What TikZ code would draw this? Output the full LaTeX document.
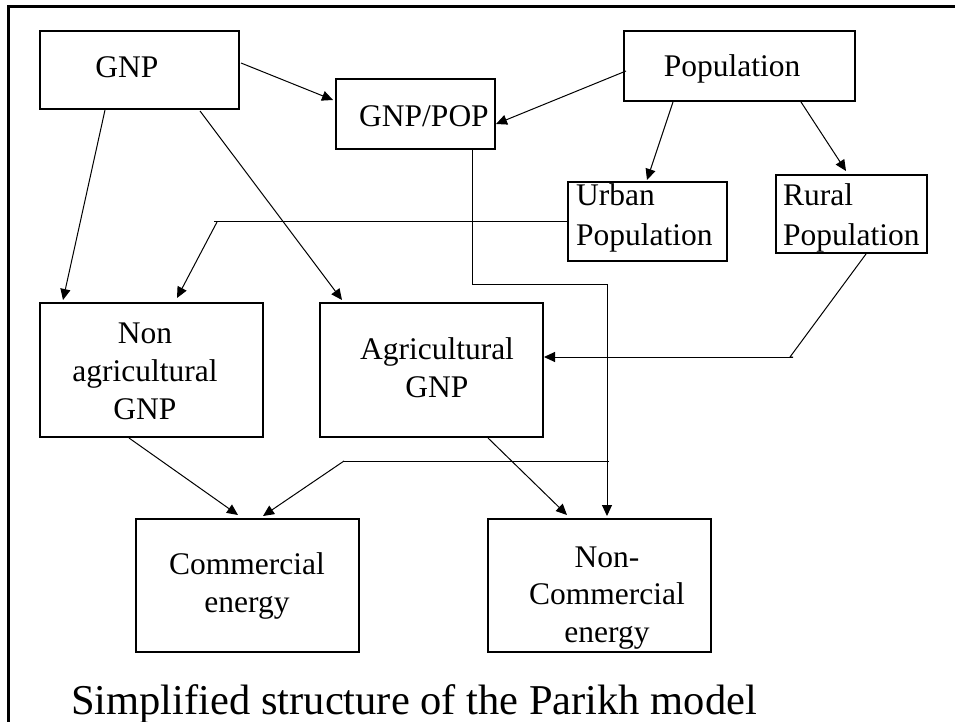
\documentclass[tikz,border=0pt]{standalone}
\usepackage{fontspec}
\setmainfont{Liberation Serif}
\usetikzlibrary{arrows.meta}
\tikzset{
  box/.style={draw, line width=1.2pt, inner sep=0pt, outer sep=0pt, anchor=north west},
  lbl/.style={inner sep=0pt, anchor=base, font=\fontsize{31.5}{38}\selectfont},
  lbll/.style={lbl, anchor=base west},
  conn/.style={line width=1pt, -{Triangle[length=11pt,width=10pt]}},
  plain/.style={line width=1pt},
}
\begin{document}
\begin{tikzpicture}[x=1pt,y=-1pt]
\useasboundingbox (0,0) rectangle (955,722);
% frame
\draw[line width=2.7pt] (8.7,722) -- (8.7,6.7) -- (955,6.7);

% boxes
\node[box, minimum width=199pt, minimum height=78pt] (gnp) at (40,31) {};
\node[box, minimum width=159pt, minimum height=70pt] (gnppop) at (336,79) {};
\node[box, minimum width=231pt, minimum height=70pt] (pop) at (624,31) {};
\node[box, minimum width=159pt, minimum height=79pt] (urban) at (568,182) {};
\node[box, minimum width=151pt, minimum height=78pt] (rural) at (776,175) {};
\node[box, minimum width=223pt, minimum height=134pt] (nag) at (40,303) {};
\node[box, minimum width=223pt, minimum height=134pt] (ag) at (320,303) {};
\node[box, minimum width=223pt, minimum height=133pt] (com) at (136,519) {};
\node[box, minimum width=223pt, minimum height=133pt] (ncom) at (488,519) {};

% labels
\node[lbl] (gnpT) at (127,78) {GNP};
\node[lbl] (gnppopT) at (424,127) {GNP/POP};
\node[lbl] (popT) at (732,77) {Population};
\node[lbll] (urbanT1) at (576,205) {Urban};
\node[lbll] (urbanT2) at (576,245) {Population};
\node[lbll] (ruralT1) at (783,205) {Rural};
\node[lbll] (ruralT2) at (783,245) {Population};
\node[lbl] (nagT1) at (145,343) {Non};
\node[lbl] (nagT2) at (145,381) {agricultural};
\node[lbl] (nagT3) at (145,419) {GNP};
\node[lbl] (agT1) at (437,359) {Agricultural};
\node[lbl] (agT2) at (437,397) {GNP};
\node[lbl] (comT1) at (247,574) {Commercial};
\node[lbl] (comT2) at (247,612) {energy};
\node[lbl] (ncomT1) at (607,567) {Non-};
\node[lbl] (ncomT2) at (607,604) {Commercial};
\node[lbl] (ncomT3) at (607,642) {energy};

% caption
\node[inner sep=0pt, anchor=base west, font=\fontsize{42.5}{50}\selectfont] (caption) at (71,714) {Simplified structure of the Parikh model};

% helper coordinates
\coordinate (c1) at (214,221);
\coordinate (c3) at (607,284);
\coordinate (c4) at (793,357);
\coordinate (c5) at (609,461);
\coordinate (c6) at (344,461);

% connectors
\draw[conn] ([shift={(201,32)}]gnp.north west) -- ([shift={(-3,21)}]gnppop.north west);
\draw[conn] ([shift={(2,40)}]pop.north west) -- ([shift={(160,45)}]gnppop.north west);
\draw[conn] ([shift={(49,71)}]pop.north west) -- ([shift={(79,-2)}]urban.north west);
\draw[conn] ([shift={(177,71)}]pop.north west) -- ([shift={(70,-4)}]rural.north west);
\draw[conn] ([shift={(65,79)}]gnp.north west) -- ([shift={(23,-3)}]nag.north west);
\draw[conn] ([shift={(160,80)}]gnp.north west) -- ([shift={(22,-3)}]ag.north west);
\draw[plain] ([shift={(0,39)}]urban.north west) -- (c1);
\draw[conn] ([shift={(3,1)}]c1) -- ([shift={(137,-5)}]nag.north west);
\draw[plain] ([shift={(136,70)}]gnppop.north west) |- (c3);
\draw[conn] (c3) -- ([shift={(119,-3)}]ncom.north west);
\draw[plain] ([shift={(90,79)}]rural.north west) -- ([shift={(-3,0)}]c4) -- (c4);
\draw[conn] (c4) -- ([shift={(224,54)}]ag.north west);
\draw[conn] ([shift={(89,135)}]nag.north west) -- ([shift={(102,-4)}]com.north west);
\draw[plain] (c5) -- (c6);
\draw[conn] (c6) -- ([shift={(127,-3)}]com.north west);
\draw[conn] ([shift={(168,135)}]ag.north west) -- ([shift={(79,-4)}]ncom.north west);
\end{tikzpicture}
\end{document}
